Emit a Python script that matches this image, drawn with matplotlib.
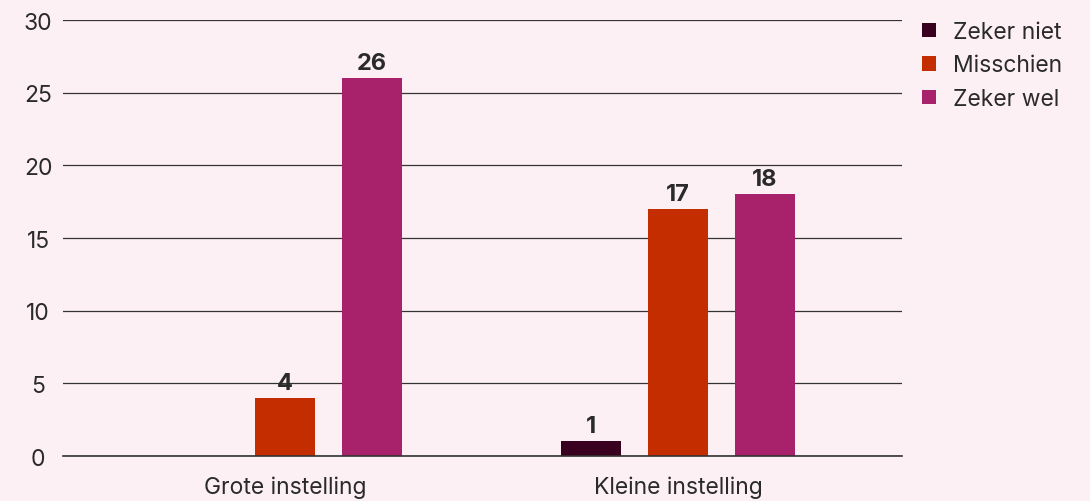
import numpy as np
import matplotlib.pyplot as plt

groups = ["Grote instelling", "Kleine instelling"]
series = ["Zeker niet", "Misschien", "Zeker wel"]
zeker_niet = [0, 1]
misschien = [4, 17]
zeker_wel = [26, 18]
colors = ["#3a0020", "#c42d00", "#a8226b"]

bg = "#fdf0f4"
plt.rcParams["font.family"] = ["Inter", "DejaVu Sans"]

fig = plt.figure(figsize=(10.9, 5.02), dpi=100, facecolor=bg)
ax = fig.add_axes([0.0578, 0.0896, 0.7697, 0.8684], facecolor=bg)

x = np.arange(len(groups))
step = 0.2214
width = 0.155
for i, (vals, name, c) in enumerate(zip([zeker_niet, misschien, zeker_wel], series, colors)):
    pos = x + (i - 1) * step
    ax.bar(pos, vals, width, color=c, label=name, zorder=3)
    for p, v in zip(pos, vals):
        if v > 0:
            ax.text(p, v + 0.3, str(v), ha="center", va="bottom",
                    fontsize=17, fontweight="bold", color="#2a2a2a", zorder=4)

ax.set_xlim(-0.565, 1.570)
ax.set_ylim(0, 30)
ax.set_yticks(range(0, 31, 5))
ax.grid(axis="y", color="#333333", linewidth=0.9, zorder=0)
for s in ["left", "right", "top"]:
    ax.spines[s].set_visible(False)
ax.spines["bottom"].set_color("#333333")
ax.spines["bottom"].set_linewidth(1.2)
ax.spines["bottom"].set_zorder(5)

ax.set_xticks(x)
ax.set_xticklabels(groups, fontsize=16.5, color="#2a2a2a")
ax.tick_params(axis="x", length=0, pad=14)
ax.tick_params(axis="y", length=0, pad=18, labelsize=16.5, labelcolor="#2a2a2a")
for lbl in ax.get_yticklabels():
    lbl.set_horizontalalignment("center")

ax.legend(loc="upper left", bbox_to_anchor=(1.0238, 0.998), frameon=False,
          fontsize=16.5, handlelength=0.6, handleheight=0.6,
          handletextpad=0.74, labelspacing=0.5, borderpad=0,
          borderaxespad=0, labelcolor="#2a2a2a")

fig.savefig("out.png", dpi=100, facecolor=bg)
